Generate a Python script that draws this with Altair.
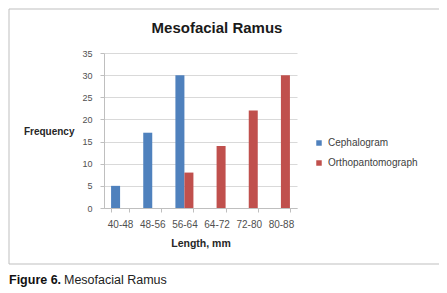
import altair as alt
import pandas as pd

categories = ["40-48", "48-56", "56-64", "64-72", "72-80", "80-88"]
series_names = ["Cephalogram", "Orthopantomograph"]
cephalogram = [5, 17, 30, 0, 0, 0]
orthopantomograph = [0, 0, 8, 14, 22, 30]
y_ticks = [0, 5, 10, 15, 20, 25, 30, 35]
colors = ["#4F81BD", "#C0504D"]

rows = []
for cat, a, b in zip(categories, cephalogram, orthopantomograph):
    rows.append({"length": cat, "series": series_names[0], "freq": a})
    rows.append({"length": cat, "series": series_names[1], "freq": b})
df = pd.DataFrame(rows)

FONT = "Liberation Sans"

frame = alt.Chart(alt.Data(values=[{}])).mark_rect(
    fillOpacity=0, stroke="#BFBFBF", strokeWidth=1
).encode(x=alt.value(-95), x2=alt.value(336), y=alt.value(-44), y2=alt.value(211))

bars = alt.Chart(df).mark_bar().encode(
    x=alt.X(
        "length:N",
        sort=categories,
        scale=alt.Scale(domain=categories, paddingInner=0.44, paddingOuter=0.22),
        axis=alt.Axis(
            title="Length, mm",
            labelAngle=0,
            labelFont=FONT,
            labelFontSize=10,
            labelColor="#505050",
            labelPadding=7,
            tickBand="extent",
            tickSize=4,
            tickColor="#BFBFBF",
            domainColor="#BFBFBF",
            titleFont=FONT,
            titleFontSize=10.5,
            titleFontWeight="bold",
            titleColor="#262626",
            titleBaseline="middle",
            titleY=35,
        ),
    ),
    xOffset=alt.XOffset(
        "series:N", sort=series_names, scale=alt.Scale(domain=series_names, paddingInner=0, paddingOuter=0)
    ),
    y=alt.Y(
        "freq:Q",
        scale=alt.Scale(domain=[0, 35], nice=False),
        axis=alt.Axis(
            values=y_ticks,
            title="Frequency",
            titleAngle=0,
            titleAlign="right",
            titleBaseline="middle",
            titleX=-30,
            titleY=78,
            titleFont=FONT,
            titleFontSize=10,
            titleFontWeight="bold",
            titleColor="#262626",
            labelFont=FONT,
            labelFontSize=9,
            labelColor="#505050",
            labelPadding=8,
            tickSize=4,
            tickColor="#BFBFBF",
            domainColor="#BFBFBF",
            grid=True,
            gridColor="#D9D9D9",
        ),
    ),
    color=alt.Color(
        "series:N",
        sort=series_names,
        scale=alt.Scale(domain=series_names, range=colors),
        legend=alt.Legend(
            title=None,
            orient="none",
            legendX=210,
            legendY=85,
            symbolType="square",
            symbolSize=30,
            symbolStrokeWidth=0,
            labelFont=FONT,
            labelFontSize=10,
            labelColor="#404040",
            labelOffset=4,
            rowPadding=10,
            padding=0,
        ),
    ),
)

title = alt.Chart(alt.Data(values=[{}])).mark_text(
    text="Mesofacial Ramus", font=FONT, fontSize=15, fontWeight="bold", color="#1a1a1a",
    align="center", baseline="alphabetic"
).encode(x=alt.value(113), y=alt.value(-20))

cap1 = alt.Chart(alt.Data(values=[{}])).mark_text(
    text="Figure 6.", font=FONT, fontSize=12.5, fontWeight="bold", color="#111111",
    align="left", baseline="alphabetic"
).encode(x=alt.value(-95), y=alt.value(231))

cap2 = alt.Chart(alt.Data(values=[{}])).mark_text(
    text="Mesofacial Ramus", font=FONT, fontSize=12.5, color="#222222",
    align="left", baseline="alphabetic"
).encode(x=alt.value(-40), y=alt.value(231))

chart = alt.layer(frame, bars, title, cap1, cap2).properties(
    width=193,
    height=155,
    autosize=alt.AutoSizeParams(type="none"),
    padding={"left": 96, "top": 45, "right": 142, "bottom": 82},
).configure_view(stroke=None)

chart.save("out.html", embed_options={"renderer": "svg", "actions": False})
